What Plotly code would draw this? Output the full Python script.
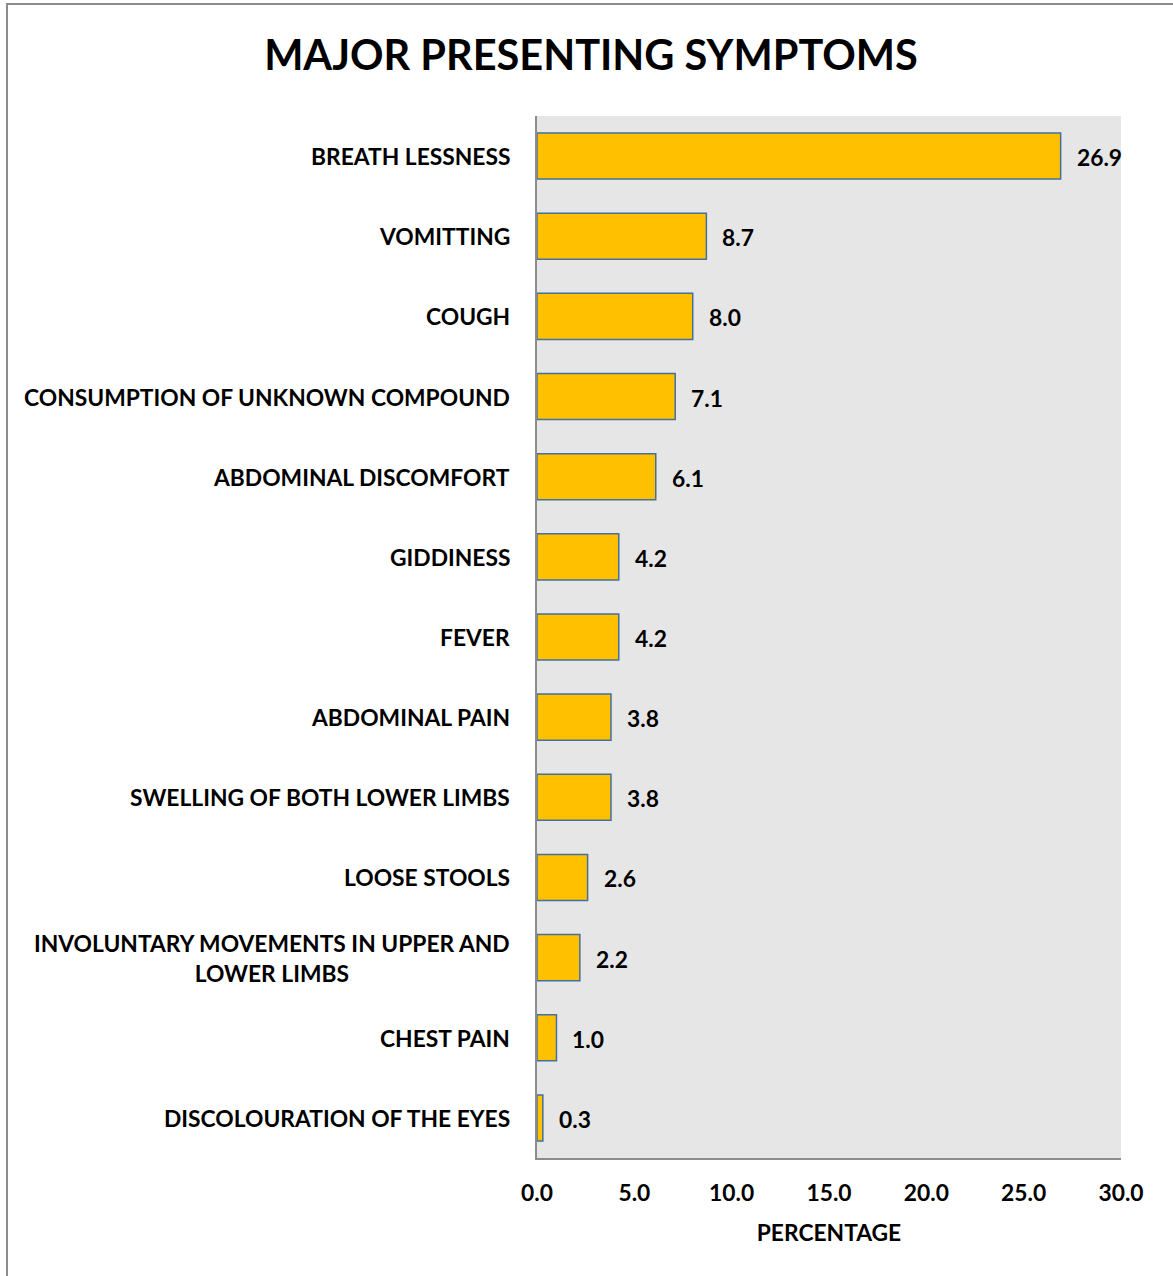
import plotly.graph_objects as go

categories = [
    "BREATH LESSNESS",
    "VOMITTING",
    "COUGH",
    "CONSUMPTION OF UNKNOWN COMPOUND",
    "ABDOMINAL DISCOMFORT",
    "GIDDINESS",
    "FEVER",
    "ABDOMINAL PAIN",
    "SWELLING OF BOTH LOWER LIMBS",
    "LOOSE STOOLS",
    "INVOLUNTARY MOVEMENTS IN UPPER AND<br>LOWER LIMBS",
    "CHEST PAIN",
    "DISCOLOURATION OF THE EYES",
]
percentages = [26.9, 8.7, 8.0, 7.1, 6.1, 4.2, 4.2, 3.8, 3.8, 2.6, 2.2, 1.0, 0.3]
x_ticks = [0, 5, 10, 15, 20, 25, 30]
x_tick_labels = ["0.0", "5.0", "10.0", "15.0", "20.0", "25.0", "30.0"]

FONT = "Lato"
FS = 22.8
W, H = 1173, 1276
L, R, T, B = 537, 52, 116, 118

fig = go.Figure()
fig.add_trace(go.Bar(
    x=percentages,
    y=categories,
    orientation="h",
    width=0.575,
    marker=dict(color="#FFC000", line=dict(color="#41719C", width=1.5)),
    hoverinfo="x+y",
))

annotations = []
for c, v in zip(categories, percentages):
    annotations.append(dict(
        x=v, y=c, xref="x", yref="y", text=f"{v:.1f}", showarrow=False,
        xanchor="left", yanchor="middle", xshift=14, yshift=-1,
        font=dict(family=FONT, size=FS, color="#000000", weight="bold"),
    ))
    annotations.append(dict(
        x=0, y=c, xref="paper", yref="y", text=c, showarrow=False,
        xanchor="right", yanchor="middle", align="center", xshift=-25,
        font=dict(family=FONT, size=FS, color="#000000", weight="bold"),
    ))

fig.update_layout(
    width=W, height=H,
    margin=dict(l=L, r=R, t=T, b=B),
    paper_bgcolor="#FFFFFF",
    plot_bgcolor="#E6E6E6",
    showlegend=False,
    bargap=0.425,
    title=dict(
        text="MAJOR PRESENTING SYMPTOMS",
        x=591 / W, xanchor="center", y=1 - 55 / H, yanchor="middle",
        font=dict(family=FONT, size=41.5, color="#000000", weight="bold"),
    ),
    xaxis=dict(
        range=[0, 30], tickvals=x_ticks, ticktext=x_tick_labels,
        showgrid=False, zeroline=False, showline=True, linecolor="#8C8C8C", linewidth=2,
        ticks="", ticklabelstandoff=14,
        tickfont=dict(family=FONT, size=FS, color="#000000", weight="bold"),
        title=dict(text="PERCENTAGE", standoff=20,
                   font=dict(family=FONT, size=FS, color="#000000", weight="bold")),
    ),
    yaxis=dict(
        autorange="reversed", showticklabels=False, showgrid=False, zeroline=False,
        showline=True, linecolor="#8C8C8C", linewidth=2, ticks="",
    ),
    annotations=annotations,
    shapes=[dict(type="rect", xref="paper", yref="paper",
                 x0=(7 - L) / (W - L - R), x1=(W + 20 - L) / (W - L - R),
                 y0=-(B + 20) / (H - T - B), y1=1 + (T - 4) / (H - T - B),
                 line=dict(color="#8C8C8C", width=2), fillcolor="rgba(0,0,0,0)", layer="below")],
)

fig.write_html("out.html", config={"displayModeBar": False},
               post_script="document.body.style.margin='0';")
